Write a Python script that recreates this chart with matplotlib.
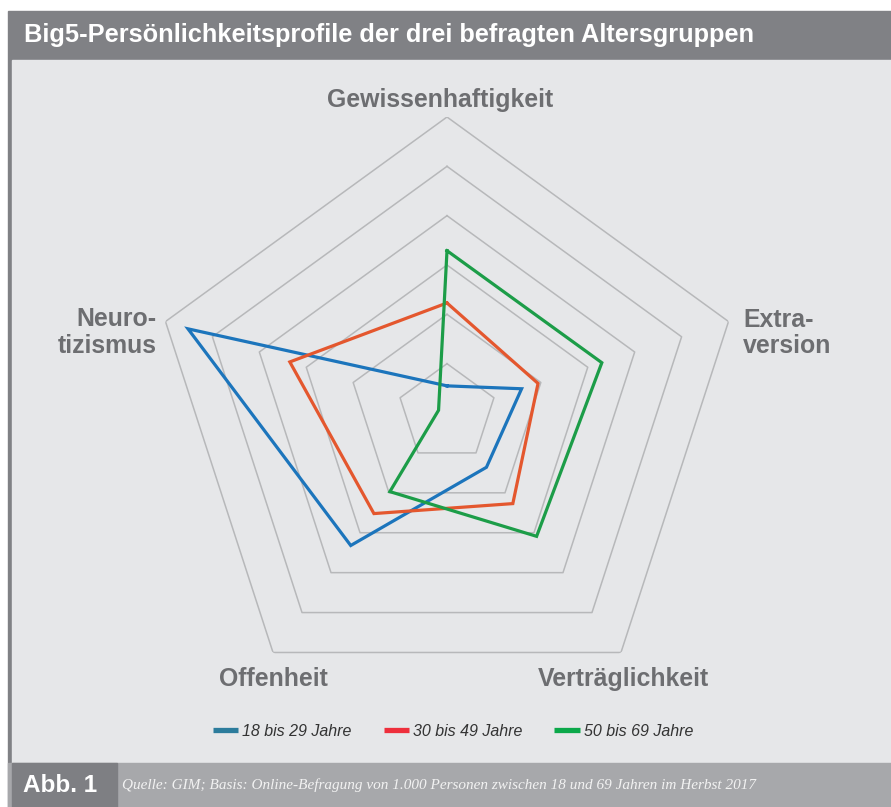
import numpy as np
import matplotlib.pyplot as plt
from matplotlib.patches import Rectangle
from matplotlib.lines import Line2D

W, H = 891, 807

categories = ['Gewissenhaftigkeit', 'Extraversion', 'Verträglichkeit',
              'Offenheit', 'Neurotizismus']
jung = [0.55, 1.59, 1.36, 3.32, 5.52]      # 18 bis 29 Jahre
mittel = [2.23, 1.94, 2.27, 2.52, 3.35]    # 30 bis 49 Jahre
alt = [3.29, 3.30, 3.09, 1.97, 0.18]       # 50 bis 69 Jahre
rings = [1, 2, 3, 4, 5, 6]
series_labels = ['18 bis 29 Jahre', '30 bis 49 Jahre', '50 bis 69 Jahre']

line_cols = ['#1c75bc', '#e4572e', '#1c9d48']
legend_cols = ['#2c7c9c', '#ee2f3c', '#0ba84a']
grid_col = '#b7b8ba'
label_col = '#6d6e71'


def fx(x):
    return x / W


def fy(y):
    return 1 - y / H


fig = plt.figure(figsize=(W / 100, H / 100), dpi=100)
fig.patch.set_facecolor('white')

# frame / boxes
boxes = [((8, H), 1, 11 - H, '#808185'),
         ((12, 763), 1, 60 - 763, '#e6e7e9'),
         ((8, H), 1, 763 - H, '#a7a8ab'),
         ((12, H), fx(117) - fx(12), 763 - H, '#7e7f83')]
for (x0, y0), w, h, c in boxes:
    fig.patches.append(Rectangle((fx(x0), fy(y0)), w, -h / H,
                                 transform=fig.transFigure, color=c, zorder=-5))

fig.text(fx(24), fy(35), 'Big5-Persönlichkeitsprofile der drei befragten Altersgruppen',
         color='white', fontsize=18.3, fontweight='bold', family='Liberation Sans',
         va='center', ha='left')
fig.text(fx(23), fy(785), 'Abb. 1', color='white', fontsize=17.5, fontweight='bold',
         family='Liberation Sans', va='center', ha='left')
fig.text(fx(122), fy(785),
         'Quelle: GIM; Basis: Online-Befragung von 1.000 Personen zwischen 18 und 69 Jahren im Herbst 2017',
         color='#f2f2f2', fontsize=10.95, style='italic', family='Liberation Serif',
         va='center', ha='left')

# radar
R = 296
cx, cy = 447, 413
ax = fig.add_axes([fx(cx - R), fy(cy + R), 2 * R / W, 2 * R / H], projection='polar')
ax.set_zorder(2)
ax.set_facecolor('none')
ax.set_theta_offset(np.pi / 2)
ax.set_theta_direction(-1)
ax.set_ylim(0, 6)
ax.grid(False)
ax.spines['polar'].set_visible(False)
ax.set_xticks([])
ax.set_yticks([])

n = len(categories)
theta = np.arange(n + 1) * 2 * np.pi / n

for r in rings:
    ax.plot(theta, [r] * (n + 1), color=grid_col, lw=1.1, zorder=1)

for vals, c in zip([jung, mittel, alt], line_cols):
    ax.plot(theta, vals + vals[:1], color=c, lw=2.3, zorder=3,
            solid_joinstyle='miter')

# axis labels
lab = dict(color=label_col, fontsize=17.9, fontweight='bold', family='Liberation Sans')
fig.text(fx(440), fy(107), 'Gewissenhaftigkeit', ha='center', va='baseline', **lab)
fig.text(fx(743), fy(327), 'Extra-', ha='left', va='baseline', **lab)
fig.text(fx(743), fy(353), 'version', ha='left', va='baseline', **lab)
fig.text(fx(157), fy(326), 'Neuro-', ha='right', va='baseline', **lab)
fig.text(fx(157), fy(353), 'tizismus', ha='right', va='baseline', **lab)
fig.text(fx(273), fy(686), 'Offenheit', ha='center', va='baseline', **lab)
fig.text(fx(623), fy(686), 'Verträglichkeit', ha='center', va='baseline', **lab)

handles = [Line2D([], [], color=c, lw=3.8, solid_capstyle='butt') for c in legend_cols]
leg = fig.legend(handles, series_labels, loc='center', bbox_to_anchor=(fx(453), fy(731)),
                 ncol=3, frameon=False, handlelength=1.6, handletextpad=0.25,
                 columnspacing=2.0,
                 prop=dict(family='Liberation Sans', style='italic', size=11.5))
for t in leg.get_texts():
    t.set_color('#333333')

fig.savefig('out.png', dpi=100, facecolor=fig.get_facecolor())
